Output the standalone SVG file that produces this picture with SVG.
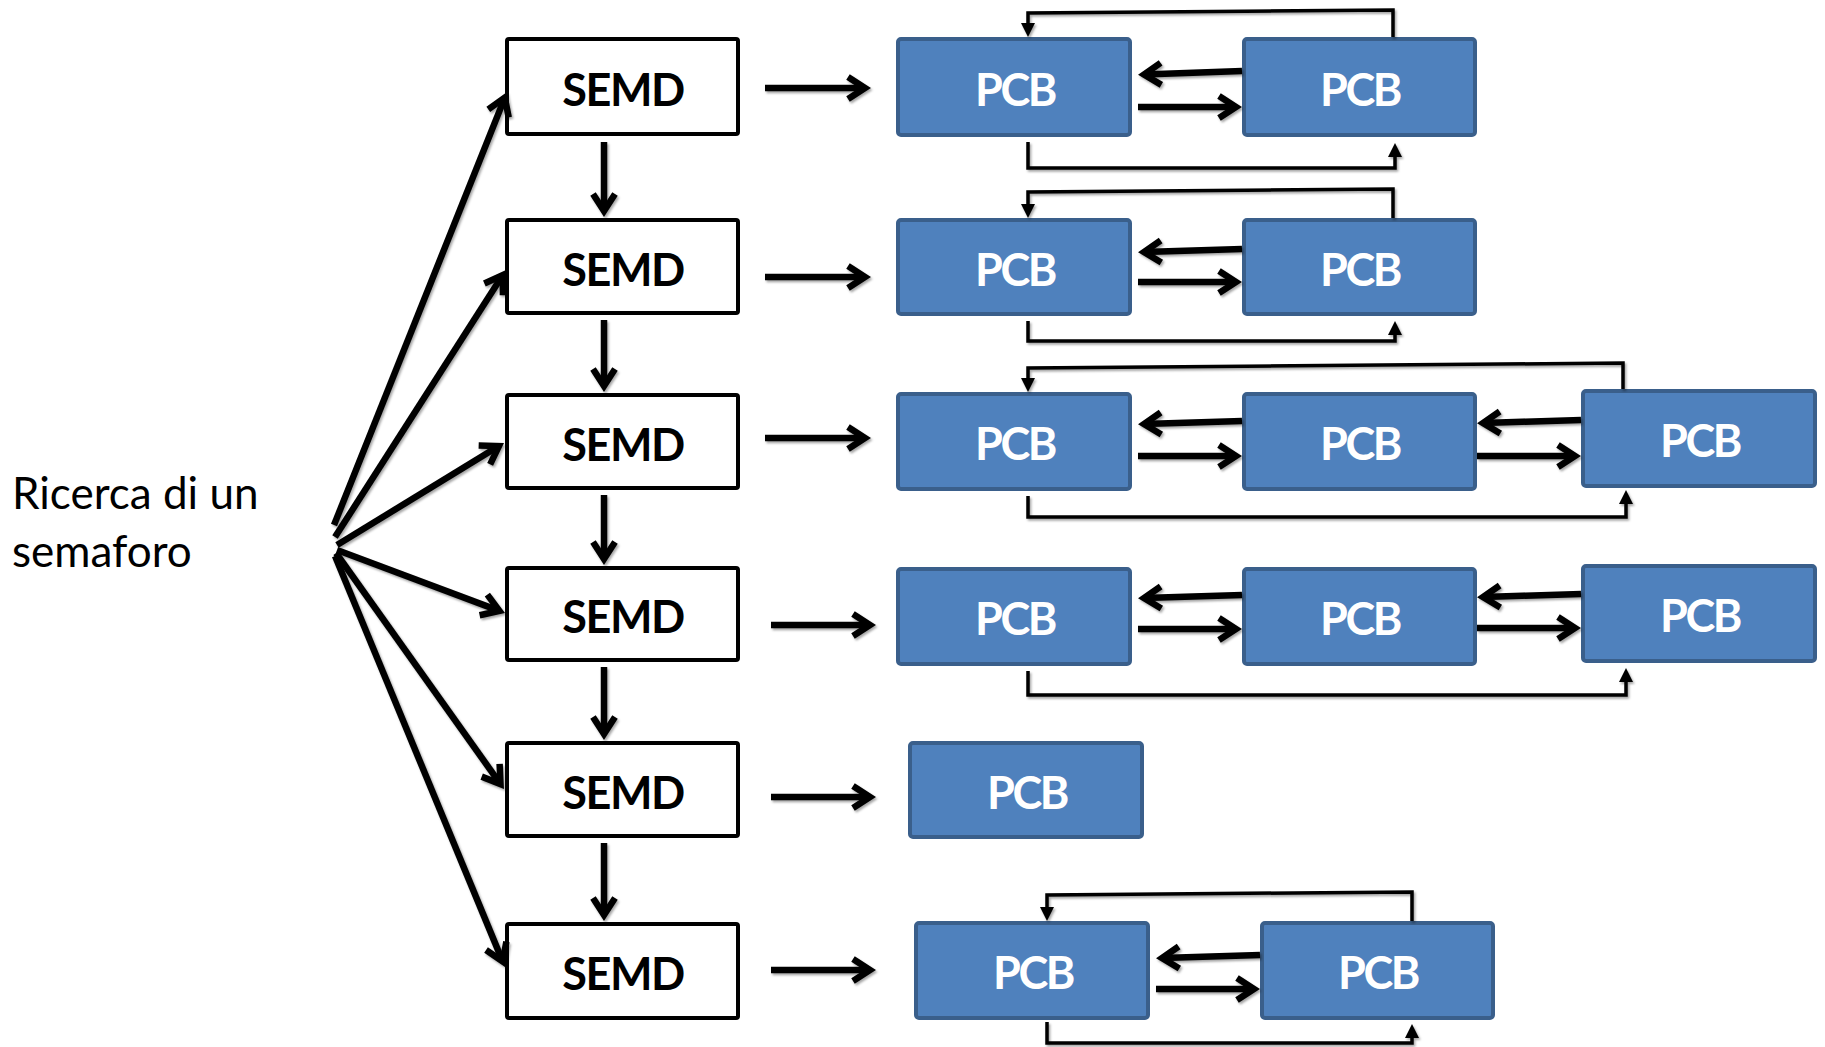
<svg xmlns="http://www.w3.org/2000/svg" width="1825" height="1047" viewBox="0 0 1825 1047">
<defs>
<style>
.semd rect{fill:#fff;stroke:#000;stroke-width:4}
.semd text{font-family:Lato,"Open Sans","Liberation Sans",sans-serif;font-weight:700;font-size:45px;letter-spacing:-1.5px;fill:#000;text-anchor:middle}
.pcb rect{fill:#4F81BD;stroke:#3A5F8B;stroke-width:4}
.pcb text{font-family:Lato,"Open Sans","Liberation Sans",sans-serif;font-weight:700;font-size:45px;letter-spacing:-2.5px;fill:#fff;text-anchor:middle}
.thick{fill:none;stroke:#000;stroke-width:6.5;marker-end:url(#chev)}
.thin{fill:none;stroke:#000;stroke-width:3.5;stroke-linejoin:miter;marker-end:url(#tri)}
.lbl{font-family:Lato,"Open Sans","Liberation Sans",sans-serif;font-size:44px;fill:#000}
</style>
<marker id="chev" markerUnits="userSpaceOnUse" viewBox="-30 -20 40 40" refX="0" refY="0" markerWidth="40" markerHeight="40" orient="auto" overflow="visible">
<path d="M-17,-11 L0,0 L-17,11" fill="none" stroke="#000" stroke-width="6.5" stroke-linejoin="miter"/>
</marker>
<marker id="tri" markerUnits="userSpaceOnUse" viewBox="-20 -10 30 20" refX="0" refY="0" markerWidth="30" markerHeight="20" orient="auto" overflow="visible">
<path d="M-10,-7 L4,0 L-10,7 Z" fill="#000"/>
</marker>
<filter id="sh" x="-5%" y="-5%" width="110%" height="110%">
<feDropShadow dx="1.5" dy="2" stdDeviation="1.2" flood-color="#000" flood-opacity="0.35"/>
</filter>
</defs>
<rect width="1825" height="1047" fill="#fff"/>

<g id="label">
<text class="lbl" x="12" y="509">Ricerca di un</text>
<text class="lbl" x="12" y="567">semaforo</text>
</g>

<g id="semd1" class="semd"><rect x="507" y="39" width="231" height="95" rx="2"/><text x="623" y="106">SEMD</text></g>
<g id="semd2" class="semd"><rect x="507" y="220" width="231" height="93" rx="2"/><text x="623" y="286">SEMD</text></g>
<g id="semd3" class="semd"><rect x="507" y="395" width="231" height="93" rx="2"/><text x="623" y="461">SEMD</text></g>
<g id="semd4" class="semd"><rect x="507" y="568" width="231" height="92" rx="2"/><text x="623" y="633">SEMD</text></g>
<g id="semd5" class="semd"><rect x="507" y="743" width="231" height="93" rx="2"/><text x="623" y="809">SEMD</text></g>
<g id="semd6" class="semd"><rect x="507" y="924" width="231" height="94" rx="2"/><text x="623" y="990">SEMD</text></g>

<g id="pcb1a" class="pcb"><rect x="898" y="39" width="232" height="96" rx="3"/><text x="1015" y="106">PCB</text></g>
<g id="pcb1b" class="pcb"><rect x="1244" y="39" width="231" height="96" rx="3"/><text x="1360" y="106">PCB</text></g>
<g id="pcb2a" class="pcb"><rect x="898" y="220" width="232" height="94" rx="3"/><text x="1015" y="286">PCB</text></g>
<g id="pcb2b" class="pcb"><rect x="1244" y="220" width="231" height="94" rx="3"/><text x="1360" y="286">PCB</text></g>
<g id="pcb3a" class="pcb"><rect x="898" y="394" width="232" height="95" rx="3"/><text x="1015" y="460">PCB</text></g>
<g id="pcb3b" class="pcb"><rect x="1244" y="394" width="231" height="95" rx="3"/><text x="1360" y="460">PCB</text></g>
<g id="pcb3c" class="pcb"><rect x="1583" y="391" width="232" height="95" rx="3"/><text x="1700" y="457">PCB</text></g>
<g id="pcb4a" class="pcb"><rect x="898" y="569" width="232" height="95" rx="3"/><text x="1015" y="635">PCB</text></g>
<g id="pcb4b" class="pcb"><rect x="1244" y="569" width="231" height="95" rx="3"/><text x="1360" y="635">PCB</text></g>
<g id="pcb4c" class="pcb"><rect x="1583" y="566" width="232" height="95" rx="3"/><text x="1700" y="632">PCB</text></g>
<g id="pcb5" class="pcb"><rect x="910" y="743" width="232" height="94" rx="3"/><text x="1027" y="809">PCB</text></g>
<g id="pcb6a" class="pcb"><rect x="916" y="923" width="232" height="95" rx="3"/><text x="1033" y="989">PCB</text></g>
<g id="pcb6b" class="pcb"><rect x="1262" y="923" width="231" height="95" rx="3"/><text x="1378" y="989">PCB</text></g>

<g id="connectors" filter="url(#sh)">
<path class="thick" d="M334,525 L504.8,97.6"/>
<path class="thick" d="M335,537 L502.8,275.1"/>
<path class="thick" d="M337,545 L498.9,446.1"/>
<path class="thick" d="M337,550 L499.4,610.9"/>
<path class="thick" d="M336,553 L500.5,784.1"/>
<path class="thick" d="M335,556 L502.7,961.5"/>
<path class="thick" d="M604,142 V211"/>
<path class="thick" d="M604,320 V386"/>
<path class="thick" d="M604,495 V559"/>
<path class="thick" d="M604,667 V734"/>
<path class="thick" d="M604,843 V915"/>
<path class="thick" d="M765,88 H865"/>
<path class="thick" d="M765,277 H865"/>
<path class="thick" d="M765,438 H865"/>
<path class="thick" d="M771,625 H870"/>
<path class="thick" d="M771,797 H870"/>
<path class="thick" d="M771,970 H870"/>
<path class="thick" d="M1242,71 L1144,74.5"/>
<path class="thick" d="M1138,107 H1236"/>
<path class="thick" d="M1242,249 L1144,252"/>
<path class="thick" d="M1138,282 H1236"/>
<path class="thick" d="M1242,421 L1144,424"/>
<path class="thick" d="M1138,456 H1236"/>
<path class="thick" d="M1581,420 L1483,423"/>
<path class="thick" d="M1477,456 H1575"/>
<path class="thick" d="M1242,595 L1144,598"/>
<path class="thick" d="M1138,629 H1236"/>
<path class="thick" d="M1581,594 L1483,597"/>
<path class="thick" d="M1477,628 H1575"/>
<path class="thick" d="M1260,955 L1162,958"/>
<path class="thick" d="M1156,989 H1254"/>
<path class="thin" d="M1393,37 V10 L1028,13 V33"/>
<path class="thin" d="M1028,142 V168 H1395 V147"/>
<path class="thin" d="M1393,218 V189 L1028,192 V214"/>
<path class="thin" d="M1028,321 V341 H1395 V325"/>
<path class="thin" d="M1623,389 V363 L1028,368 V388"/>
<path class="thin" d="M1028,496 V517 H1626 V494"/>
<path class="thin" d="M1028,671 V695 H1626 V672"/>
<path class="thin" d="M1412,921 V892 L1047,895 V917"/>
<path class="thin" d="M1047,1022 V1043 H1412 V1028"/>
</g>
</svg>
